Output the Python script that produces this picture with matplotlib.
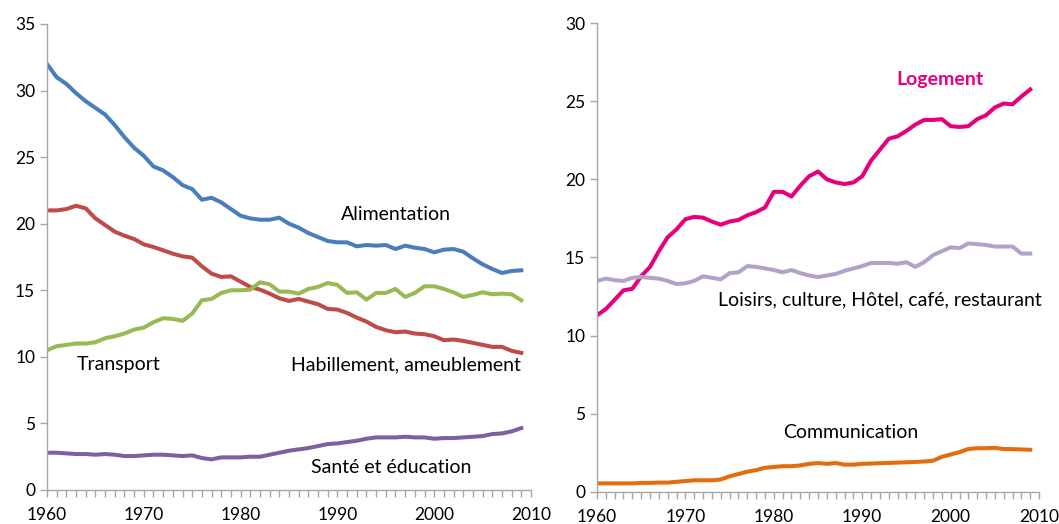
import numpy as np
import matplotlib
matplotlib.use("Agg")
from matplotlib import pyplot as plt
from matplotlib.ticker import MultipleLocator

plt.rcParams['font.family'] = ['Lato', 'DejaVu Sans']

years = np.arange(1960, 2010)

# left panel
alimentation = [32.0, 31.0, 30.5, 29.8, 29.2, 28.7, 28.2, 27.4, 26.5, 25.7,
                25.1, 24.3, 24.0, 23.5, 22.9, 22.6, 21.8, 21.95, 21.6, 21.1,
                20.6, 20.4, 20.3, 20.3, 20.45, 20.0, 19.7, 19.3, 19.0, 18.7,
                18.6, 18.6, 18.3, 18.4, 18.35, 18.4, 18.1, 18.35, 18.2, 18.1,
                17.85, 18.05, 18.1, 17.9, 17.4, 16.95, 16.6, 16.3, 16.45, 16.5]
habillement = [21.0, 21.0, 21.1, 21.35, 21.15, 20.4, 19.9, 19.4, 19.1, 18.85,
               18.45, 18.25, 18.0, 17.75, 17.55, 17.45, 16.8, 16.25, 16.0, 16.05,
               15.65, 15.25, 15.05, 14.75, 14.4, 14.2, 14.35, 14.15, 13.95, 13.6,
               13.55, 13.3, 12.95, 12.65, 12.25, 12.0, 11.85, 11.9, 11.75, 11.7,
               11.55, 11.25, 11.3, 11.2, 11.05, 10.9, 10.75, 10.75, 10.45, 10.3]
transport = [10.5, 10.8, 10.9, 11.0, 11.0, 11.1, 11.4, 11.55, 11.75, 12.05,
             12.2, 12.6, 12.9, 12.85, 12.7, 13.25, 14.25, 14.35, 14.8, 15.0,
             15.0, 15.05, 15.6, 15.45, 14.9, 14.9, 14.75, 15.1, 15.25, 15.55,
             15.4, 14.8, 14.85, 14.3, 14.8, 14.8, 15.1, 14.5, 14.8, 15.3,
             15.3, 15.1, 14.85, 14.5, 14.65, 14.85, 14.7, 14.75, 14.7, 14.25]
sante = [2.8, 2.8, 2.75, 2.7, 2.7, 2.65, 2.7, 2.65, 2.55, 2.55,
         2.6, 2.65, 2.65, 2.6, 2.55, 2.6, 2.4, 2.3, 2.45, 2.45,
         2.45, 2.5, 2.5, 2.65, 2.8, 2.95, 3.05, 3.15, 3.3, 3.45,
         3.5, 3.6, 3.7, 3.85, 3.95, 3.95, 3.95, 4.0, 3.95, 3.95,
         3.85, 3.9, 3.9, 3.95, 4.0, 4.05, 4.2, 4.25, 4.4, 4.65]

# right panel
logement = [11.3, 11.7, 12.3, 12.9, 13.0, 13.8, 14.4, 15.4, 16.3, 16.8,
            17.45, 17.6, 17.55, 17.3, 17.1, 17.3, 17.4, 17.7, 17.9, 18.2,
            19.2, 19.2, 18.9, 19.6, 20.2, 20.5, 20.0, 19.8, 19.7, 19.8,
            20.2, 21.2, 21.9, 22.6, 22.75, 23.1, 23.5, 23.8, 23.8, 23.85,
            23.4, 23.35, 23.4, 23.85, 24.1, 24.6, 24.85, 24.8, 25.3, 25.75]
loisirs = [13.5, 13.65, 13.55, 13.5, 13.7, 13.75, 13.7, 13.65, 13.5, 13.3,
           13.35, 13.5, 13.8, 13.7, 13.6, 14.0, 14.05, 14.45, 14.4, 14.3,
           14.2, 14.05, 14.2, 14.0, 13.85, 13.75, 13.85, 13.95, 14.15, 14.3,
           14.45, 14.65, 14.65, 14.65, 14.6, 14.7, 14.4, 14.7, 15.15, 15.4,
           15.65, 15.6, 15.9, 15.85, 15.8, 15.7, 15.7, 15.7, 15.25, 15.25]
communication = [0.55, 0.55, 0.55, 0.55, 0.55, 0.58, 0.58, 0.6, 0.6, 0.65,
                 0.7, 0.75, 0.75, 0.75, 0.8, 1.0, 1.15, 1.3, 1.4, 1.55,
                 1.6, 1.65, 1.65, 1.7, 1.8, 1.85, 1.8, 1.85, 1.75, 1.75,
                 1.8, 1.82, 1.84, 1.86, 1.88, 1.9, 1.92, 1.95, 2.0, 2.25,
                 2.4, 2.55, 2.75, 2.8, 2.8, 2.82, 2.75, 2.74, 2.72, 2.7]

fig = plt.figure(figsize=(10.59, 5.24), dpi=100)
ax1 = fig.add_axes([0.0444, 0.0649, 0.457, 0.8893])
ax2 = fig.add_axes([0.5637, 0.0611, 0.4175, 0.895])

lw = 2.9
ax1.plot(years, alimentation, c="#4A7EBB", lw=lw)
ax1.plot(years, habillement, c="#BE4B48", lw=lw)
ax1.plot(years, transport, c="#98B954", lw=lw)
ax1.plot(years, sante, c="#7D60A0", lw=lw)

ax2.plot(years, logement, c="#E6007E", lw=lw)
ax2.plot(years, loisirs, c="#B3A2C7", lw=lw)
ax2.plot(years, communication, c="#E46C0A", lw=lw)

fs = 14
ax1.text(1996, 20.7, "Alimentation", fontsize=fs, ha="center", va="center")
ax1.text(1963.1, 9.4, "Transport", fontsize=fs, ha="left", va="center")
ax1.text(2009.0, 9.4, "Habillement, ameublement", fontsize=fs, ha="right", va="center")
ax1.text(1995.6, 1.7, "Santé et éducation", fontsize=fs, ha="center", va="center")

ax2.text(1998.8, 26.4, "Logement", fontsize=fs, ha="center", va="center",
         color="#E6007E", fontweight="bold")
ax2.text(2010.3, 12.3, "Loisirs, culture, Hôtel, café, restaurant", fontsize=fs,
         ha="right", va="center")
ax2.text(1988.7, 3.8, "Communication", fontsize=fs, ha="center", va="center")

for ax, top in [(ax1, 35), (ax2, 30)]:
    ax.set_xlim(1960, 2010)
    ax.set_ylim(0, top)
    ax.yaxis.set_major_locator(MultipleLocator(5))
    ax.xaxis.set_major_locator(MultipleLocator(10))
    ax.xaxis.set_minor_locator(MultipleLocator(1))
    for s in ["top", "right"]:
        ax.spines[s].set_visible(False)
    for s in ["left", "bottom"]:
        ax.spines[s].set_color("#A6A6A6")
        ax.spines[s].set_linewidth(1.0)
    ax.tick_params(axis="both", which="both", colors="#A6A6A6", labelcolor="black",
                   labelsize=12.5, direction="out", length=5, width=1)
    ax.tick_params(axis="x", which="major", pad=7)

plt.savefig("out.png", dpi=100)
